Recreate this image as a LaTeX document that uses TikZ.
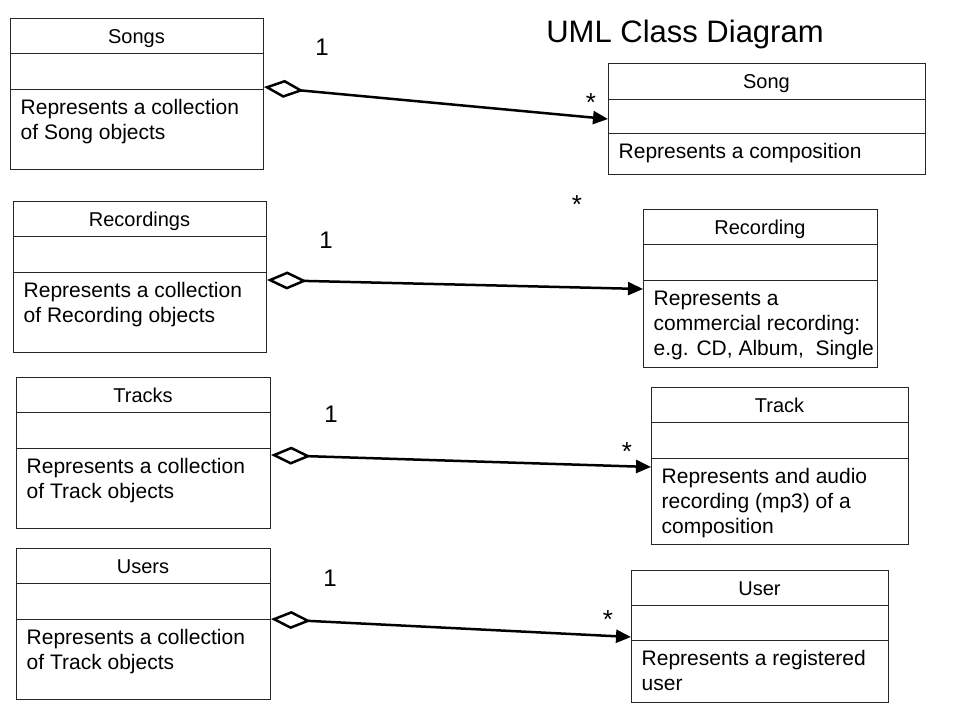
\documentclass[tikz,border=0pt]{standalone}
\usepackage{fontspec}
\setmainfont{Liberation Sans}
\usetikzlibrary{arrows.meta,calc}
\tikzset{
  classbox/.style={draw=black!85, line width=1pt, inner sep=0pt, fill=white},
  classline/.style={draw=black!85, line width=1pt},
  titletext/.style={anchor=base, inner sep=0pt, font=\fontsize{20}{24}\selectfont},
  bodytext/.style={anchor=north west, inner sep=0pt, align=left, font=\fontsize{21}{25}\selectfont},
  multone/.style={anchor=base, inner sep=0pt, font=\fontsize{24}{28}\selectfont},
  multmany/.style={anchor=base, inner sep=0pt, font=\fontsize{26}{30}\selectfont},
  aggr/.style={line width=2.5pt, black,
    {Diamond[length=40pt,width=18pt,fill=white,line width=2.5pt]}-{Triangle[length=15pt,width=13pt]}},
}
% name, x1, y1, x2, y2, d1, d2, title, body
\newcommand{\umlbox}[9]{%
  \node[classbox, minimum width={#4-#2}, minimum height={#5-#3}, anchor=north west] (#1) at (#2,#3) {};
  \draw[classline] (#2,#6) -- (#4,#6);
  \draw[classline] (#2,#7) -- (#4,#7);
  \node[titletext] (#1-title) at ({(#2+#4)/2},{(#3+#6)/2+7.5}) {#8};
  \node[bodytext] (#1-body) at ({#2+10.5},{#7+10.5}) {#9};
}
\begin{document}
\begin{tikzpicture}[x=1pt,y=-1pt]
\useasboundingbox (0,0) rectangle (960,720);
\fill[white] (0,0) rectangle (960,720);

\node[anchor=base, inner sep=0pt, font=\fontsize{31}{36}\selectfont] (title) at (685,42) {UML Class Diagram};

\umlbox{songs}{10}{18}{263}{169}{53}{89}{Songs}{Represents a collection\\of Song objects}
\umlbox{song}{608}{63}{925}{174}{99}{133}{Song}{Represents a composition}
\umlbox{recs}{13}{201}{266}{352}{236}{272}{Recordings}{Represents a collection\\of Recording objects}
\umlbox{rec}{643}{209}{877}{367}{244}{280}{Recording}{Represents a\\commercial recording:\\e.g. CD, Album,\ \ Single}
\umlbox{tracks}{16}{377}{270}{528}{412}{448}{Tracks}{Represents a collection\\of Track objects}
\umlbox{track}{651}{387}{908}{544}{422}{458}{Track}{Represents and audio\\recording (mp3) of a\\composition}
\umlbox{users}{16}{548}{270}{699}{583}{619}{Users}{Represents a collection\\of Track objects}
\umlbox{user}{631}{570}{888}{702}{605}{640}{User}{Represents a registered\\user}

\draw[aggr] ($(songs.north east)+(0,69)$) -- ($(song.north west)+(0,56)$);
\draw[aggr] ($(recs.north east)+(0,79)$) -- ($(rec.north west)+(0,80)$);
\draw[aggr] ($(tracks.north east)+(0,78)$) -- ($(track.north west)+(0,80)$);
\draw[aggr] ($(users.north east)+(0,71)$) -- ($(user.north west)+(0,67)$);

\node[multone] (m1a) at (322,55) {1};
\node[multone] (m2a) at (326,248) {1};
\node[multone] (m3a) at (331,422) {1};
\node[multone] (m4a) at (330,586) {1};

\node[multmany] (m1b) at (591,111) {*};
\node[multmany] (m2b) at (577,213) {*};
\node[multmany] (m3b) at (627,460) {*};
\node[multmany] (m4b) at (608,628) {*};
\end{tikzpicture}
\end{document}
